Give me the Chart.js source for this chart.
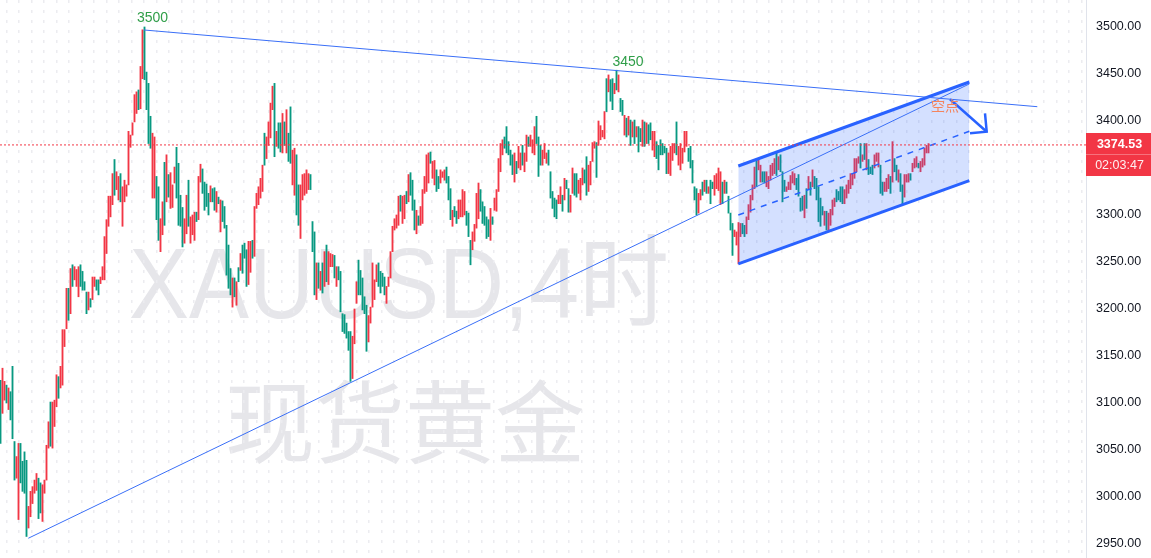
<!DOCTYPE html>
<html>
<head>
<meta charset="utf-8">
<script src="https://cdn.jsdelivr.net/npm/chart.js@4.4.1/dist/chart.umd.min.js"></script>
<style>
	html, body { margin: 0; padding: 0; background: #ffffff; }
	#wrap { width: 1151px; height: 558px; }
</style>
</head>
<body>
<div id="wrap"><canvas id="chart-xauusd" width="1151" height="558"></canvas></div>
<script>
// 4h bars, oldest first: high / low / direction (1 = up, red; 0 = down, green)
const highs = [
	3124, 3137, 3123, 3119, 3116, 3112, 3139, 3059, 3043, 3057, 3057, 3038, 3048, 3039, 2990, 3006, 3011, 3018, 3025, 3020,
	3015, 3013, 3018, 3055, 3080, 3101, 3101, 3103, 3130, 3128, 3139, 3178, 3178, 3222, 3222, 3243, 3247, 3245, 3242, 3245,
	3247, 3240, 3229, 3218, 3218, 3211, 3234, 3234, 3231, 3231, 3234, 3245, 3277, 3295, 3320, 3320, 3344, 3359, 3346, 3341,
	3344, 3330, 3337, 3332, 3389, 3385, 3398, 3428, 3431, 3433, 3458, 3497, 3500, 3452, 3440, 3405, 3387, 3383, 3341, 3330,
	3296, 3314, 3356, 3364, 3343, 3345, 3332, 3351, 3372, 3355, 3321, 3308, 3296, 3321, 3337, 3298, 3300, 3303, 3303, 3341,
	3354, 3349, 3335, 3333, 3323, 3331, 3328, 3329, 3325, 3319, 3316, 3315, 3309, 3289, 3268, 3243, 3233, 3233, 3229, 3244,
	3259, 3268, 3270, 3263, 3272, 3272, 3273, 3309, 3323, 3330, 3339, 3353, 3387, 3383, 3399, 3419, 3437, 3440, 3389, 3398,
	3398, 3408, 3399, 3412, 3387, 3415, 3369, 3371, 3364, 3332, 3332, 3343, 3344, 3348, 3344, 3343, 3293,
	3282, 3249, 3249, 3240, 3249, 3261, 3268, 3261, 3259, 3258, 3257, 3245, 3245, 3240, 3195, 3194, 3185, 3176, 3176, 3171,
	3200, 3229, 3252, 3241, 3233, 3213, 3204, 3193, 3202, 3249, 3231, 3247, 3249, 3240, 3238, 3234, 3224, 3234, 3261, 3288,
	3296, 3300, 3320, 3321, 3320, 3321, 3325, 3343, 3345, 3337, 3316, 3305, 3299, 3309, 3327, 3341, 3364, 3366, 3367, 3357,
	3358, 3348, 3341, 3348, 3346, 3348, 3351, 3341, 3328, 3305, 3309, 3304, 3316, 3316, 3327, 3325, 3304, 3302, 3273,
	3282, 3290, 3323, 3334, 3327, 3314, 3309, 3298, 3295, 3307, 3298, 3318, 3327, 3360, 3376, 3380, 3383, 3394, 3378, 3369,
	3364, 3366, 3357, 3373, 3366, 3374, 3366, 3385, 3383, 3385, 3380, 3394, 3405, 3383, 3374, 3369, 3376, 3366, 3369, 3346,
	3325, 3318, 3316, 3321, 3330, 3321, 3339, 3337, 3328, 3321, 3350, 3344, 3344, 3337, 3339, 3350, 3348, 3362, 3353, 3357,
	3377, 3378, 3377, 3400, 3395, 3390, 3410, 3445, 3449, 3444, 3445, 3440, 3454, 3449, 3424, 3422, 3406, 3403, 3405, 3401,
	3399, 3401, 3394, 3394, 3392, 3401, 3399, 3398, 3396, 3398, 3389, 3389, 3378, 3374, 3380, 3376, 3373, 3371, 3366, 3373,
	3376, 3376, 3399, 3373, 3376, 3371, 3389, 3389, 3371, 3373, 3358, 3330, 3328, 3323, 3327, 3335, 3337, 3337, 3330, 3337,
	3335, 3342, 3344, 3350, 3346, 3335, 3337, 3335, 3320, 3302, 3291, 3284, 3282, 3292, 3291, 3291, 3289, 3298, 3311, 3321,
	3332, 3351, 3358, 3360, 3353, 3346, 3346, 3346, 3341, 3353, 3355, 3360, 3366, 3362, 3364, 3346, 3337, 3330, 3335, 3342,
	3346, 3344, 3339, 3343, 3318, 3320, 3321, 3328, 3341, 3335, 3348, 3341, 3339, 3330, 3318, 3309, 3304, 3304, 3302, 3306,
	3316, 3318, 3327, 3325, 3330, 3330, 3327, 3332, 3337, 3344, 3344, 3360, 3360, 3362, 3376, 3364, 3376, 3376, 3359, 3351,
	3353, 3364, 3366, 3366, 3353, 3335, 3335, 3339, 3343, 3341, 3378, 3360, 3353, 3348, 3344, 3332, 3343, 3343, 3344, 3344,
	3355, 3360, 3362, 3355, 3357, 3360, 3371, 3374, 3376,
];
const lows = [
	3057, 3089, 3103, 3100, 3093, 3082, 3062, 3018, 3020, 2976, 3015, 3006, 3004, 2958, 2967, 2979, 2993, 3004, 3007, 2977,
	2983, 2974, 3004, 3018, 3052, 3054, 3052, 3075, 3096, 3105, 3116, 3119, 3160, 3179, 3188, 3195, 3224, 3231, 3224, 3213,
	3224, 3220, 3220, 3195, 3199, 3202, 3210, 3224, 3220, 3215, 3227, 3231, 3231, 3259, 3288, 3298, 3311, 3321, 3327, 3316,
	3314, 3288, 3314, 3320, 3332, 3372, 3385, 3399, 3408, 3412, 3413, 3445, 3444, 3412, 3376, 3371, 3318, 3318, 3295, 3273,
	3261, 3279, 3289, 3314, 3319, 3307, 3308, 3334, 3318, 3289, 3288, 3266, 3270, 3280, 3288, 3270, 3279, 3273, 3293, 3295,
	3335, 3323, 3305, 3309, 3300, 3314, 3314, 3305, 3303, 3312, 3282, 3293, 3286, 3236, 3222, 3215, 3202, 3213, 3204, 3229,
	3241, 3238, 3254, 3224, 3226, 3239, 3254, 3256, 3307, 3311, 3318, 3325, 3353, 3360, 3374, 3382, 3412, 3362, 3373, 3371,
	3367, 3366, 3374, 3366, 3357, 3355, 3332, 3321, 3300, 3289, 3275, 3316, 3321, 3323, 3327, 3327, 3261,
	3215, 3210, 3222, 3220, 3217, 3224, 3229, 3226, 3245, 3245, 3233, 3224, 3231, 3197, 3176, 3174, 3169, 3156, 3123, 3126,
	3163, 3206, 3215, 3215, 3199, 3195, 3155, 3165, 3185, 3202, 3210, 3229, 3224, 3217, 3224, 3215, 3206, 3224, 3233, 3261,
	3284, 3286, 3289, 3304, 3291, 3296, 3312, 3314, 3321, 3305, 3284, 3280, 3289, 3289, 3291, 3323, 3325, 3334, 3355, 3339,
	3332, 3325, 3328, 3334, 3340, 3337, 3334, 3316, 3295, 3288, 3298, 3291, 3296, 3298, 3298, 3300, 3289, 3277, 3247,
	3263, 3272, 3286, 3296, 3304, 3291, 3289, 3275, 3277, 3273, 3290, 3305, 3304, 3325, 3346, 3364, 3371, 3366, 3364, 3353,
	3343, 3335, 3344, 3350, 3348, 3353, 3346, 3357, 3373, 3373, 3366, 3364, 3376, 3341, 3353, 3353, 3360, 3355, 3353, 3318,
	3307, 3298, 3296, 3312, 3312, 3304, 3316, 3328, 3303, 3303, 3323, 3321, 3319, 3323, 3316, 3332, 3334, 3321, 3325, 3332,
	3357, 3371, 3340, 3374, 3380, 3383, 3381, 3410, 3431, 3421, 3412, 3429, 3433, 3431, 3410, 3406, 3385, 3383, 3385, 3374,
	3383, 3376, 3383, 3367, 3378, 3373, 3373, 3376, 3376, 3380, 3369, 3362, 3360, 3348, 3364, 3364, 3366, 3344, 3344, 3342,
	3358, 3366, 3364, 3353, 3348, 3355, 3367, 3373, 3357, 3350, 3334, 3316, 3300, 3302, 3316, 3321, 3325, 3323, 3323, 3312,
	3328, 3321, 3328, 3326, 3311, 3312, 3323, 3323, 3302, 3284, 3257, 3277, 3268, 3248, 3277, 3280, 3277, 3280, 3295, 3303,
	3316, 3328, 3330, 3348, 3335, 3335, 3334, 3330, 3328, 3337, 3342, 3344, 3342, 3348, 3346, 3314, 3325, 3325, 3327, 3327,
	3334, 3332, 3327, 3320, 3304, 3305, 3297, 3307, 3328, 3321, 3330, 3328, 3316, 3293, 3288, 3300, 3289, 3284, 3283, 3289,
	3300, 3309, 3314, 3316, 3314, 3312, 3312, 3318, 3323, 3328, 3332, 3339, 3346, 3355, 3350, 3357, 3359, 3348, 3343, 3344,
	3343, 3350, 3357, 3351, 3323, 3321, 3325, 3325, 3328, 3323, 3335, 3346, 3337, 3335, 3325, 3311, 3319, 3335, 3335, 3337,
	3346, 3350, 3351, 3350, 3346, 3351, 3353, 3366, 3366,
];
const ups = [
	0, 1, 1, 0, 1, 0, 0, 0, 1, 1, 0, 0, 0, 0, 1, 1, 1, 1, 1, 0,
	0, 1, 1, 1, 1, 0, 1, 1, 1, 0, 1, 1, 1, 1, 0, 1, 0, 1, 1, 1,
	0, 0, 0, 0, 1, 0, 1, 1, 0, 0, 1, 1, 1, 1, 1, 1, 1, 0, 1, 1,
	0, 1, 1, 1, 1, 1, 1, 1, 1, 0, 1, 1, 0, 0, 0, 0, 1, 1, 0, 0,
	1, 1, 0, 1, 0, 1, 1, 1, 0, 0, 0, 0, 1, 1, 0, 1, 1, 1, 0, 1,
	1, 0, 0, 0, 0, 1, 0, 0, 1, 0, 1, 0, 0, 0, 0, 0, 1, 0, 1, 0,
	1, 0, 0, 0, 1, 1, 0, 1, 1, 1, 1, 1, 0, 1, 1, 1, 1, 0, 1, 0,
	0, 1, 0, 1, 0, 0, 1, 1, 0, 0, 1, 1, 1, 1, 1, 0, 0,
	0, 1, 0, 1, 0, 1, 0, 1, 1, 1, 0, 1, 0, 0, 0, 0, 0, 0, 0, 1,
	1, 1, 0, 0, 0, 0, 0, 1, 1, 1, 1, 1, 0, 0, 0, 0, 1, 1, 1, 1,
	1, 1, 1, 0, 1, 1, 0, 1, 0, 0, 0, 1, 0, 1, 1, 1, 1, 1, 0, 1,
	1, 0, 0, 1, 1, 1, 0, 0, 0, 1, 0, 0, 1, 1, 1, 1, 0, 0, 0,
	1, 1, 1, 1, 0, 0, 0, 0, 0, 1, 0, 1, 1, 1, 1, 1, 0, 0, 0, 0,
	0, 1, 0, 1, 1, 0, 1, 1, 0, 1, 1, 1, 0, 0, 0, 1, 1, 1, 0, 0,
	0, 0, 0, 1, 1, 0, 1, 0, 0, 1, 1, 0, 0, 1, 1, 1, 0, 0, 1, 1,
	1, 1, 0, 1, 1, 1, 1, 0, 1, 0, 0, 1, 0, 1, 0, 0, 1, 0, 1, 0,
	1, 0, 1, 0, 0, 1, 0, 1, 0, 0, 1, 1, 0, 0, 0, 0, 0, 0, 1, 1,
	1, 1, 0, 1, 1, 1, 1, 1, 0, 0, 0, 0, 0, 1, 1, 0, 1, 0, 1, 0,
	0, 1, 1, 1, 1, 0, 1, 0, 0, 0, 0, 1, 1, 1, 1, 0, 0, 1, 1, 1,
	1, 1, 0, 1, 1, 0, 0, 1, 1, 1, 1, 1, 0, 1, 0, 0, 0, 1, 1, 1,
	1, 1, 0, 0, 0, 0, 1, 0, 1, 0, 1, 0, 0, 0, 0, 0, 1, 0, 1, 1,
	1, 1, 0, 0, 0, 0, 1, 1, 1, 1, 1, 1, 1, 1, 0, 1, 0, 1, 0, 0,
	0, 1, 1, 1, 0, 0, 1, 1, 1, 0, 1, 0, 0, 1, 0, 0, 1, 1, 1, 0,
	1, 1, 1, 0, 1, 1, 1, 1, 1,
];

// Price axis
const yTickValues = [2950, 3000, 3050, 3100, 3150, 3200, 3250, 3300, 3350, 3400, 3450, 3500];
const LAST_PRICE = 3374.53;
const COUNTDOWN = "02:03:47";

// Drawings, as [bar index, price] points
const resistanceLine = [[71.75, 3496.8], [518.4, 3415.2]];
const supportLine = [[13.9, 2956.1], [484.4, 3439.4]];
const channelTop = [[368.9, 3352.1], [484.4, 3441.5]];
const channelBottom = [[368.9, 3247.9], [484.4, 3336.5]];
const channelMid = [[368.9, 3300.0], [484.4, 3389.0]];
const arrowShaft = [[474.75, 3423.1], [493.1, 3388.6]];
const arrowHead = [[492.25, 3408.2], [493.1, 3388.6], [484.75, 3386.9]];

// Text notes: [text, bar index, price at baseline, colour]
const notes = [
	["3500", 76, 3505.3, "#2f9e48"],
	["3450", 313.75, 3458.5, "#2f9e48"],
	["空点", 472.25, 3410.6, "#f5845c"],
];

const RED = "#f23645";
const GREEN = "#089981";
const BLUE = "#2962ff";

const toPoints = (arr) => arr.map(([x, y]) => ({ x, y }));

// Chart.js pads the area for tick labels; this chart runs edge to edge
const noPadding = (scale) => {
	scale.paddingTop = 0;
	scale.paddingBottom = 0;
	scale.paddingLeft = 0;
	scale.paddingRight = 0;
};

//---------------------------------------------------------
// Plugins
//---------------------------------------------------------
const watermark = {
	id: "watermark",
	beforeDraw(chart) {
		const { ctx, chartArea } = chart;
		ctx.save();
		ctx.fillStyle = "#e6e6ea";
		ctx.textBaseline = "alphabetic";
		ctx.textAlign = "left";
		ctx.font = '100px "Liberation Sans", "Noto Sans CJK SC", sans-serif';
		ctx.fillText("XAUUSD,4时", chartArea.left + 129, 318, 540);
		ctx.font = '90px "Noto Sans CJK SC", sans-serif';
		ctx.fillText("现货黄金", chartArea.left + 225, 456);
		ctx.restore();
	},
};

const noteLabels = {
	id: "noteLabels",
	afterDatasetsDraw(chart) {
		const { ctx, scales } = chart;
		ctx.save();
		ctx.textAlign = "center";
		ctx.textBaseline = "alphabetic";
		notes.forEach(([text, x, y, color]) => {
			ctx.font = text === "空点" ? '14px "Noto Sans CJK SC", sans-serif' : '14px "Liberation Sans", sans-serif';
			ctx.fillStyle = color;
			ctx.fillText(text, scales.x.getPixelForValue(x), scales.y.getPixelForValue(y));
		});
		ctx.restore();
	},
};

const priceTag = {
	id: "priceTag",
	afterDraw(chart) {
		const { ctx, chartArea, scales } = chart;
		const y = Math.round(scales.y.getPixelForValue(LAST_PRICE));
		const left = chartArea.right;
		const w = chart.width - left;
		const cx = left + w / 2 + 1;
		ctx.save();
		ctx.fillStyle = RED;
		ctx.fillRect(left, y - 12, w, 43);
		ctx.fillStyle = "rgba(255,255,255,0.3)";
		ctx.fillRect(left, y + 9, w, 1);
		ctx.textAlign = "center";
		ctx.textBaseline = "middle";
		ctx.fillStyle = "#ffffff";
		ctx.font = 'bold 12.5px "Liberation Sans", sans-serif';
		ctx.fillText(LAST_PRICE.toFixed(2), cx, y);
		ctx.fillStyle = "rgba(255,255,255,0.92)";
		ctx.font = '12.5px "Liberation Sans", sans-serif';
		ctx.fillText(COUNTDOWN, cx, y + 21);
		ctx.restore();
	},
};

//---------------------------------------------------------
// Chart
//---------------------------------------------------------
const lineSet = (points, opts) => ({
	type: "line",
	data: toPoints(points),
	borderColor: BLUE,
	borderWidth: 1,
	pointRadius: 0,
	tension: 0,
	fill: false,
	order: 0,
	...opts,
});

const CHART_DATA = {
	datasets: [
		{
			type: "bar",
			data: highs.map((h, i) => ({ x: i, y: [lows[i], h] })),
			backgroundColor: ups.map((u) => (u ? RED : GREEN)),
			borderWidth: 0,
			barThickness: 1.2,
			grouped: false,
			order: 10,
		},
		lineSet([[-0.25, LAST_PRICE], [542.75, LAST_PRICE]], { borderColor: RED, borderDash: [2, 2] }),
		lineSet(resistanceLine, { borderColor: "#3a6ff7" }),
		lineSet(supportLine, { borderColor: "#3a6ff7" }),
		lineSet(channelTop, { borderWidth: 3 }),
		lineSet(channelBottom, { borderWidth: 3, fill: "-1", backgroundColor: "rgba(41, 98, 255, 0.2)" }),
		lineSet(channelMid, { borderWidth: 1.5, borderDash: [6, 6] }),
		lineSet(arrowShaft, { borderWidth: 2.5 }),
		lineSet(arrowHead, { borderWidth: 2.5 }),
	],
};

const CHART_CONFIG = {
	type: "bar",
	data: CHART_DATA,
	plugins: [watermark, noteLabels, priceTag],
	options: {
		responsive: false,
		animation: false,
		devicePixelRatio: 1,
		layout: { padding: 0, autoPadding: false },
		scales: {
			x: {
				type: "linear",
				offset: false,
				min: -0.25,
				max: 542.75,
				border: { display: false, dash: [3, 7] },
				grid: { color: "#ececf0", lineWidth: 1.5, drawTicks: false, offset: false },
				ticks: { display: false, padding: 0 },
				afterBuildTicks: (scale) => {
					const ticks = [];
					for (let v = 3.1; v <= scale.max; v += 6.25) ticks.push({ value: v });
					scale.ticks = ticks;
				},
				afterFit: (scale) => {
					scale.height = 0;
					noPadding(scale);
				},
			},
			y: {
				position: "right",
				min: 2935.1,
				max: 3528.7,
				border: { display: true, color: "#e0e3eb", width: 1 },
				grid: { display: false, drawTicks: false },
				ticks: {
					autoSkip: false,
					padding: 10,
					color: "#131722",
					font: { size: 12.5, family: '"Liberation Sans", Arial, sans-serif' },
					callback: (value) => Number(value).toFixed(2),
				},
				afterBuildTicks: (scale) => {
					scale.ticks = yTickValues.map((value) => ({ value }));
				},
				afterFit: (scale) => {
					scale.width = 65;
					noPadding(scale);
				},
			},
		},
		plugins: {
			legend: { display: false },
			tooltip: { enabled: false },
		},
	},
};

new Chart(document.getElementById("chart-xauusd"), CHART_CONFIG);
</script>
</body>
</html>
